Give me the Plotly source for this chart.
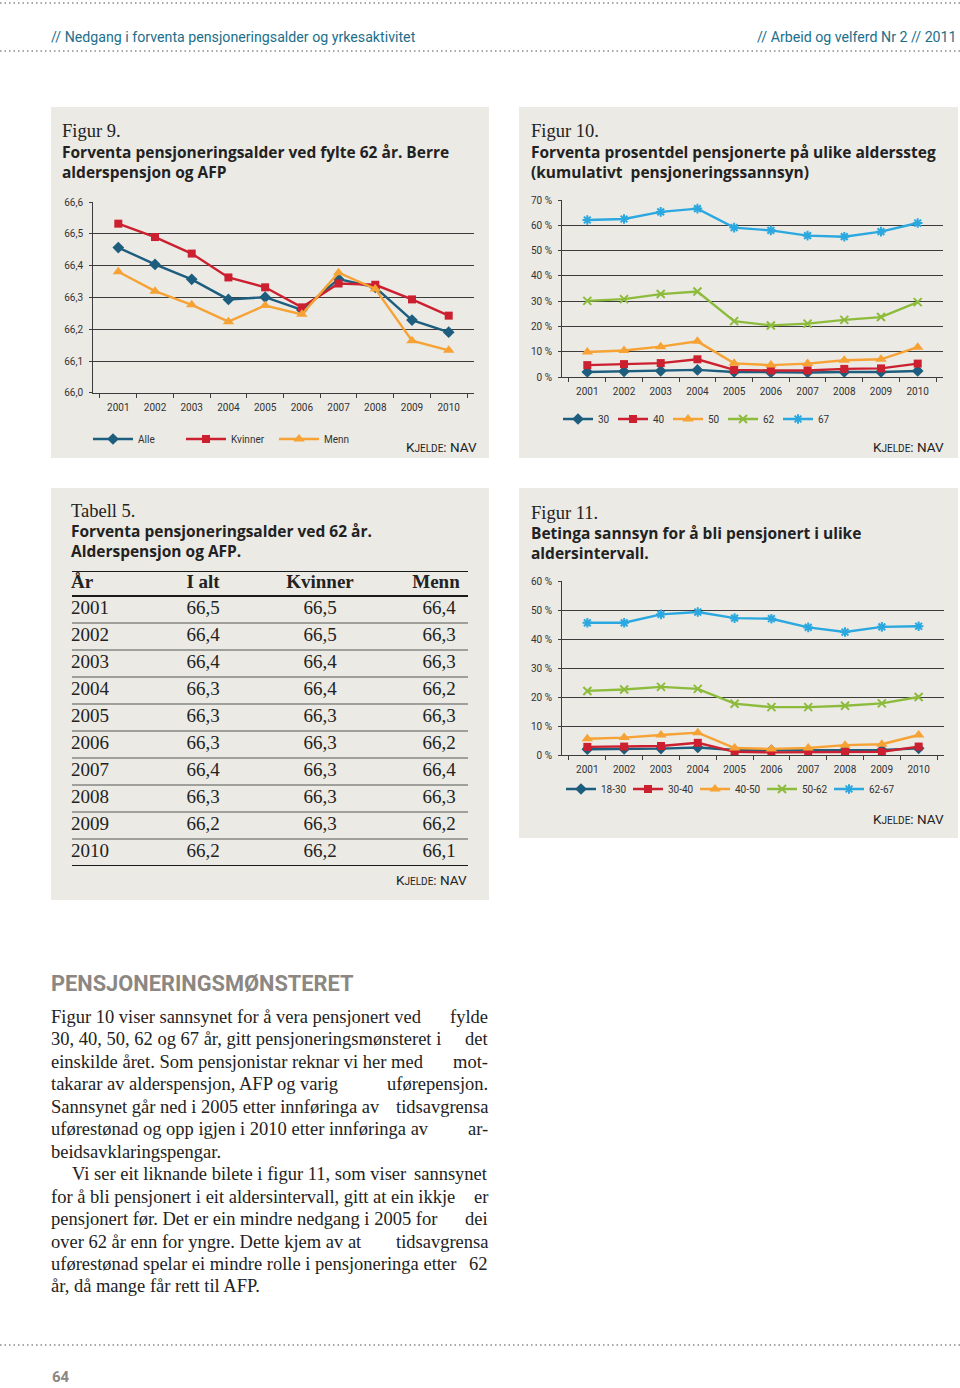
import plotly.graph_objects as go

W, H = 960, 1388

# ---------------- data ----------------
years = [str(y) for y in range(2001, 2011)]

# Figur 9 - forventa pensjoneringsalder
fig9_names = ["Alle", "Kvinner", "Menn"]
fig9_alle = [66.457, 66.404, 66.357, 66.294, 66.301, 66.261, 66.358, 66.332, 66.229, 66.191]
fig9_kvinner = [66.532, 66.490, 66.438, 66.363, 66.332, 66.269, 66.344, 66.340, 66.294, 66.243]
fig9_menn = [66.381, 66.320, 66.277, 66.224, 66.275, 66.247, 66.378, 66.327, 66.164, 66.134]

# Figur 10 - kumulativt pensjoneringssannsyn (%)
fig10_names = ["30", "40", "50", "62", "67"]
fig10_30 = [2.0, 2.2, 2.4, 2.8, 2.0, 1.8, 1.8, 2.0, 2.0, 2.4]
fig10_40 = [4.7, 5.1, 5.5, 7.0, 2.8, 2.6, 2.6, 3.2, 3.4, 5.3]
fig10_50 = [9.9, 10.5, 12.0, 14.1, 5.4, 4.7, 5.3, 6.6, 7.0, 11.8]
fig10_62 = [30.1, 30.8, 32.8, 33.8, 22.1, 20.4, 21.1, 22.6, 23.7, 29.6]
fig10_67 = [62.1, 62.5, 65.3, 66.6, 59.1, 58.0, 55.9, 55.5, 57.5, 60.9]

# Figur 11 - betinga sannsyn (%)
fig11_names = ["18-30", "30-40", "40-50", "50-62", "62-67"]
fig11_18_30 = [2.0, 2.1, 2.2, 2.6, 1.7, 1.6, 1.6, 1.7, 1.7, 2.3]
fig11_30_40 = [2.8, 2.9, 3.1, 4.2, 1.1, 0.9, 0.9, 1.1, 1.1, 2.9]
fig11_40_50 = [5.6, 6.0, 6.9, 7.7, 2.4, 2.1, 2.4, 3.4, 3.7, 6.9]
fig11_50_62 = [22.1, 22.6, 23.5, 22.8, 17.7, 16.5, 16.5, 17.0, 17.8, 20.0]
fig11_62_67 = [45.6, 45.6, 48.5, 49.3, 47.2, 47.0, 44.0, 42.4, 44.2, 44.4]

# Tabell 5
table_header = ["År", "I alt", "Kvinner", "Menn"]
table_years = years
table_ialt = [66.5, 66.4, 66.4, 66.3, 66.3, 66.3, 66.4, 66.3, 66.2, 66.2]
table_kvinner = [66.5, 66.5, 66.4, 66.4, 66.3, 66.3, 66.3, 66.3, 66.3, 66.2]
table_menn = [66.4, 66.3, 66.3, 66.2, 66.3, 66.2, 66.4, 66.3, 66.2, 66.1]

header_left = "// Nedgang i forventa pensjoneringsalder og yrkesaktivitet"
header_right = "// Arbeid og velferd Nr 2 // 2011"
section_heading = "PENSJONERINGSMØNSTERET"
body_lines = [
    ("Figur 10 viser sannsynet for å vera pensjonert ved fylde", True, False),
    ("30, 40, 50, 62 og 67 år, gitt pensjoneringsmønsteret i det", True, False),
    ("einskilde året. Som pensjonistar reknar vi her med mot-", True, False),
    ("takarar av alderspensjon, AFP og varig uførepensjon.", True, False),
    ("Sannsynet går ned i 2005 etter innføringa av tidsavgrensa", True, False),
    ("uførestønad og opp igjen i 2010 etter innføringa av ar-", True, False),
    ("beidsavklaringspengar.", False, False),
    ("Vi ser eit liknande bilete i figur 11, som viser sannsynet", True, True),
    ("for å bli pensjonert i eit aldersintervall, gitt at ein ikkje er", True, False),
    ("pensjonert før. Det er ein mindre nedgang i 2005 for dei", True, False),
    ("over 62 år enn for yngre. Dette kjem av at tidsavgrensa", True, False),
    ("uførestønad spelar ei mindre rolle i pensjoneringa etter 62", True, False),
    ("år, då mange får rett til AFP.", False, False),
]

# ---------------- style ----------------
SERIF = "Liberation Serif"
SANS = "Roboto"
TITLE = "Open Sans"
PANEL = "#ebeae5"
GRID = "#3c3c3c"
TXT = "#222222"
C_BLUE = "#1d5d7e"
C_RED = "#cc2030"
C_ORANGE = "#f6a234"
C_GREEN = "#8dbb3c"
C_CYAN = "#2aa8df"
TEAL = "#1b6f8a"


def px(x):
    return x / W


def py(y):
    return 1 - y / H


fig = go.Figure()

series_style = [
    (C_BLUE, "diamond", 9),
    (C_RED, "square", 8),
    (C_ORANGE, "triangle-up", 10),
    (C_GREEN, "x-thin-open", 8),
    (C_CYAN, "asterisk-open", 8),
]


def add_line(x, y, name, style, xa, ya, legend):
    color, sym, size = style
    open_sym = sym.endswith("open")
    fig.add_trace(go.Scatter(
        x=x, y=y, name=name, mode="lines+markers",
        line=dict(color=color, width=2.4),
        marker=dict(symbol=sym, size=size, color=color,
                    line=dict(color=color, width=2 if open_sym else 0)),
        xaxis=xa, yaxis=ya, legend=legend, hoverinfo="skip",
    ))


for name, vals, st in zip(fig9_names, [fig9_alle, fig9_kvinner, fig9_menn], series_style[:3]):
    add_line(years, vals, name, st, "x", "y", "legend")

for name, vals, st in zip(fig10_names, [fig10_30, fig10_40, fig10_50, fig10_62, fig10_67], series_style):
    add_line(years, vals, name, st, "x2", "y2", "legend2")

for name, vals, st in zip(fig11_names, [fig11_18_30, fig11_30_40, fig11_40_50, fig11_50_62, fig11_62_67], series_style):
    add_line(years, vals, name, st, "x3", "y3", "legend3")

# ---------------- table (subplot 4) ----------------
TBL_W = 396
TBL_PAD = 8
row_h = 27.0
hdr_h = 25.0
hdr_y = -0.5 - (hdr_h / row_h) / 2
top_y = -0.5 - hdr_h / row_h
col_x = [-1, 131, 248, 367]


def fmt(v):
    return f"{v:.1f}".replace(".", ",")


rows = list(range(len(table_years)))
col_vals = [table_years, [fmt(v) for v in table_ialt], [fmt(v) for v in table_kvinner], [fmt(v) for v in table_menn]]
for ci, (cx, vals) in enumerate(zip(col_x, col_vals)):
    fig.add_trace(go.Scatter(
        x=[cx] * len(vals), y=rows, text=vals, mode="text",
        textposition="middle right" if ci == 0 else "middle center",
        textfont=dict(family=SERIF, size=19, color=TXT), cliponaxis=False,
        xaxis="x4", yaxis="y4", showlegend=False, hoverinfo="skip",
    ))
    fig.add_trace(go.Scatter(
        x=[cx + (0 if ci < 3 else -3)], y=[hdr_y], text=["<b>" + table_header[ci] + "</b>"], mode="text",
        textposition="middle right" if ci == 0 else "middle center",
        textfont=dict(family=SERIF, size=19, color=TXT), cliponaxis=False,
        xaxis="x4", yaxis="y4", showlegend=False, hoverinfo="skip",
    ))

shapes = []
# panels
for (x0, y0, x1, y1) in [(51, 107, 489, 458), (519, 107, 958, 458), (51, 488, 489, 900), (519, 488, 958, 838)]:
    shapes.append(dict(type="rect", xref="paper", yref="paper", x0=px(x0), x1=px(x1), y0=py(y0), y1=py(y1),
                       fillcolor=PANEL, line=dict(width=0), layer="below"))
# dotted rules
for yy in [3, 51, 1345]:
    shapes.append(dict(type="line", xref="paper", yref="paper", x0=0, x1=1, y0=py(yy), y1=py(yy),
                       line=dict(color="#8a8a8a", width=1.5, dash="1.5px,3px")))
# table rules
table_lines = [top_y, -0.5] + [r + 0.5 for r in rows]
for i, ly in enumerate(table_lines):
    thick = i in (0, 1, len(table_lines) - 1)
    shapes.append(dict(type="line", xref="x4", yref="y4", x0=0, x1=TBL_W, y0=ly, y1=ly,
                       line=dict(color="#1a1a1a" if thick else "#555555", width=2.2 if thick else 1.2)))

annotations = []


def ann(text, x, y, size, color=TXT, family=SANS, xanchor="left", weight="normal"):
    annotations.append(dict(text=text, x=px(x), y=py(y), xref="paper", yref="paper",
                            xanchor=xanchor, yanchor="middle", showarrow=False, borderpad=0,
                            font=dict(size=size, color=color, family=family, weight=weight)))


ann(header_left, 50, 37, 14.2, TEAL)
ann(header_right, 958, 37, 14.2, TEAL, xanchor="right")

# figure titles
TS = 15.5
ann("Figur 9.", 61, 131, 18.5, family=SERIF)
ann("Forventa pensjoneringsalder ved fylte 62 år. Berre", 61, 152, TS, family=TITLE, weight="bold")
ann("alderspensjon og AFP", 61, 172, TS, family=TITLE, weight="bold")
ann("Figur 10.", 530, 131, 18.5, family=SERIF)
ann("Forventa prosentdel pensjonerte på ulike alderssteg", 530, 152, TS, family=TITLE, weight="bold")
ann("(kumulativt  pensjoneringssannsyn)", 530, 172, TS, family=TITLE, weight="bold")
ann("Tabell 5.", 70, 511, 18.5, family=SERIF)
ann("Forventa pensjoneringsalder ved 62 år.", 70, 531, TS, family=TITLE, weight="bold")
ann("Alderspensjon og AFP.", 70, 551, TS, family=TITLE, weight="bold")
ann("Figur 11.", 530, 513, 18.5, family=SERIF)
ann("Betinga sannsyn for å bli pensjonert i ulike", 530, 533, TS, family=TITLE, weight="bold")
ann("aldersintervall.", 530, 553, TS, family=TITLE, weight="bold")

kjelde = "K<span style='font-size:10px'>JELDE</span>: NAV"
ann(kjelde, 478, 447, 13.5, xanchor="right")
ann(kjelde, 945, 447, 13.5, xanchor="right")
ann(kjelde, 468, 880, 13.5, xanchor="right")
ann(kjelde, 945, 819, 13.5, xanchor="right")

# body text
ann(section_heading, 50, 983, 21.8, color="#8c8782", weight="bold")
BODY_SIZE = 18.5
for i, (line, justify, indent) in enumerate(body_lines):
    yy = 1017 + i * 22.45
    x0 = 71 if indent else 50
    if justify:
        head, last = line.rsplit(" ", 1)
        ann(head, x0, yy, BODY_SIZE, family=SERIF)
        ann(last, 489, yy, BODY_SIZE, family=SERIF, xanchor="right")
    else:
        ann(line, x0, yy, BODY_SIZE, family=SERIF)

ann("64", 51, 1377, 15, color="#8c8782", weight="bold")

# ---------------- axes ----------------
tickfont = dict(family=SANS, size=10, color="#333333")


def xaxis_cfg(x0, x1, y_anchor):
    return dict(domain=[px(x0), px(x1)], anchor=y_anchor, type="category", tickson="boundaries",
                ticks="outside", ticklen=4, tickcolor=GRID, showline=True, linecolor=GRID, linewidth=1,
                showgrid=False, tickfont=tickfont, ticklabelstandoff=5, tickangle=0, fixedrange=True)


def yaxis_cfg(y_top, y_bot, x_anchor, rng, dtick, **kw):
    d = dict(domain=[py(y_bot), py(y_top)], anchor=x_anchor, range=rng, dtick=dtick, tick0=0,
             showgrid=True, gridcolor=GRID, gridwidth=1, showline=True, linecolor=GRID, linewidth=1,
             ticks="outside", ticklen=3, tickcolor=GRID, zeroline=False, tickfont=tickfont,
             ticklabelstandoff=4, fixedrange=True)
    d.update(kw)
    return d


legend_common = dict(orientation="h", bgcolor="rgba(0,0,0,0)", xanchor="left", yanchor="middle",
                     font=dict(family=SANS, size=10, color="#333333"),
                     entrywidthmode="pixels", traceorder="normal", itemclick=False, itemdoubleclick=False)

fig.update_layout(
    width=W, height=H, margin=dict(l=0, r=0, t=0, b=0, autoexpand=False),
    paper_bgcolor="white", plot_bgcolor="rgba(0,0,0,0)",
    separators=", ",
    xaxis=xaxis_cfg(93, 474, "y"),
    yaxis=yaxis_cfg(202, 393, "x", [65.9999, 66.6001], 0.1, tickformat=".1f", tick0=66.0),
    xaxis2=xaxis_cfg(562, 943, "y2"),
    yaxis2=yaxis_cfg(200, 377, "x2", [0, 70.01], 10, ticksuffix=" %"),
    xaxis3=xaxis_cfg(562, 944, "y3"),
    yaxis3=yaxis_cfg(581, 755, "x3", [0, 60.01], 10, ticksuffix=" %"),
    xaxis4=dict(domain=[px(72 - TBL_PAD), px(72 + TBL_W)], anchor="y4", range=[-TBL_PAD, TBL_W],
                visible=False, fixedrange=True),
    yaxis4=dict(domain=[py(866), py(571)], anchor="x4", range=[9.5, top_y], visible=False, fixedrange=True),
    legend=dict(legend_common, x=px(88), y=py(439), itemwidth=40, entrywidth=38),
    legend2=dict(legend_common, x=px(558), y=py(419), itemwidth=30, entrywidth=10),
    legend3=dict(legend_common, x=px(561), y=py(789), itemwidth=30, entrywidth=22),
    shapes=shapes, annotations=annotations,
)

fig.write_html("out.html", config={"displayModeBar": False, "staticPlot": True},
               post_script="document.body.style.margin='0';document.body.style.overflow='hidden';")
